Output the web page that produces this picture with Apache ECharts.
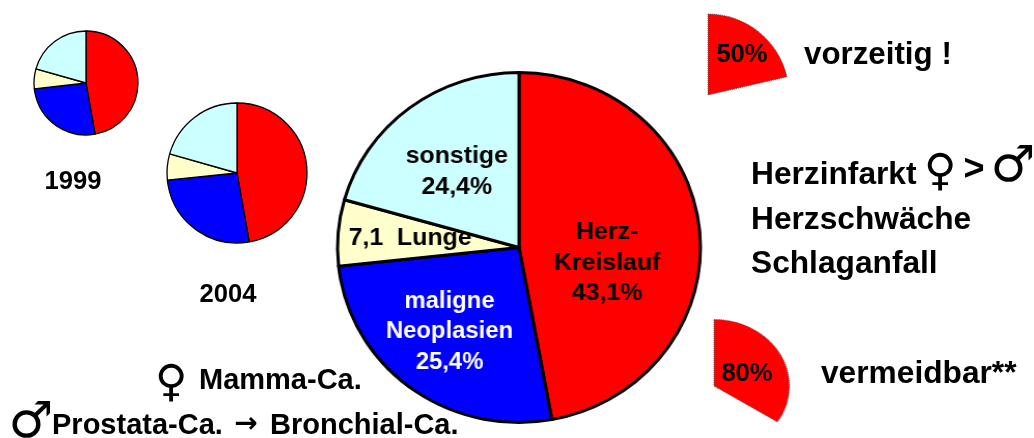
<!DOCTYPE html>
<html>
<head>
<meta charset="utf-8">
<script src="https://cdn.jsdelivr.net/npm/echarts@6/dist/echarts.min.js"></script>
<style>
  html, body { margin: 0; padding: 0; width: 1034px; height: 438px; overflow: hidden; background: #fff; }
  .layer { position: absolute; }
  #main { left: 319px; top: 47px; width: 400px; height: 401px; transform: scaleX(1.037); transform-origin: 200px 200px; }
  #wedge80 { left: 694px; top: 300px; width: 130px; height: 138px; transform: scaleX(1.134); transform-origin: 20px 86px; }
  #overlay { left: 0; top: 0; width: 1034px; height: 438px; }
</style>
</head>
<body>
<div id="main" class="layer"></div>
<div id="wedge80" class="layer"></div>
<div id="overlay" class="layer"></div>
<script>
const causes = ['Herz-Kreislauf', 'maligne Neoplasien', 'Lunge', 'sonstige']
const colors = ['#ff0000', '#0000ff', '#ffffcc', '#ccffff']

// slice shares as drawn (the printed percentages do not match the drawn angles)
const shares1999 = [47.2, 26.0, 6.2, 20.6]
const shares2004 = [47.2, 26.2, 6.0, 20.6]
const sharesMain = [47.1, 26.2, 6.1, 20.6]
const mainLabels = ['Herz-\nKreislauf\n43,1%', 'maligne\nNeoplasien\n25,4%', '7,1  Lunge', 'sonstige\n24,4%']

const wedge50 = [21.4, 78.6]
const wedge80 = [34.1, 65.9]

// label centres in the big pie's own div
const labelX = [285, 133, 95, 140]
const labelY = [216, 285, 191, 125]

const boldFont = size => `bold ${size}px "Liberation Sans", Arial, sans-serif`

const pieData = shares => shares.map((value, i) => ({ name: causes[i], value, itemStyle: { color: colors[i] } }))

const smallPie = (shares, center, radius) => ({
  type: 'pie',
  silent: true,
  animation: false,
  startAngle: 90,
  center,
  radius,
  label: { show: false },
  labelLine: { show: false },
  itemStyle: { borderColor: '#000', borderWidth: 1.3 },
  data: pieData(shares)
})

const wedgePie = (shares, center, radius) => ({
  type: 'pie',
  silent: true,
  animation: false,
  startAngle: 90,
  center,
  radius,
  label: { show: false },
  labelLine: { show: false },
  data: [
    { value: shares[0], itemStyle: { color: '#ff0000', borderColor: '#555', borderWidth: 1, borderType: 'dotted' } },
    { value: shares[1], itemStyle: { color: 'transparent', borderWidth: 0 } }
  ]
})

const mainChart = echarts.init(document.getElementById('main'))
mainChart.setOption({
  series: [{
    type: 'pie',
    silent: true,
    animation: false,
    startAngle: 90,
    center: [200, 200.5],
    radius: 175,
    itemStyle: { borderColor: '#000', borderWidth: 3 },
    labelLine: { show: false },
    label: {
      show: true,
      position: 'inside',
      fontFamily: '"Liberation Sans", Arial, sans-serif',
      fontWeight: 'bold',
      fontSize: 24,
      lineHeight: 30.5,
      color: '#000',
      formatter: params => mainLabels[params.dataIndex]
    },
    labelLayout: params => ({
      x: labelX[params.dataIndex],
      y: labelY[params.dataIndex],
      align: 'center',
      verticalAlign: 'middle'
    }),
    data: pieData(sharesMain).map((item, i) => i === 1 ? { ...item, label: { color: '#fff', fontSize: 23 } } : item)
  }]
})

const wedgeChart = echarts.init(document.getElementById('wedge80'))
wedgeChart.setOption({ series: [wedgePie(wedge80, [20, 86], 66.5)] })

const text = (value, x, y, size, align) => ({
  type: 'text', x, y, z: 10,
  style: { text: value, font: boldFont(size), fill: '#000', align: align || 'left', verticalAlign: 'middle' }
})
const symbol = (value, x, y, size, weight) => ({
  type: 'text', x, y, z: 10,
  style: { text: value, font: `${weight || 'normal'} ${size}px "DejaVu Sans", sans-serif`, fill: '#000', align: 'center', verticalAlign: 'middle' }
})

const overlay = echarts.init(document.getElementById('overlay'))
overlay.setOption({
  series: [
    smallPie(shares1999, [86, 83], 52),
    smallPie(shares2004, [237, 173], 70),
    wedgePie(wedge50, [708, 95], 81)
  ],
  graphic: [
    text('1999', 73, 181.5, 25.6, 'center'),
    text('2004', 228, 294.5, 25.6, 'center'),
    text('50%', 742, 55, 25.6, 'center'),
    text('vorzeitig !', 804, 55, 31.3),
    text('Herzinfarkt', 751, 175, 31.7),
    symbol('♀', 940, 174, 44),
    text('>', 974, 170, 36, 'center'),
    symbol('♂', 1013, 168, 50, 'bold'),
    text('Herzschwäche', 751, 220, 31.7),
    text('Schlaganfall', 751, 264, 31.7),
    text('80%', 747, 374, 25.6, 'center'),
    text('vermeidbar**', 821, 374, 31.7),
    symbol('♀', 171, 385, 44),
    text('Mamma-Ca.', 199, 381, 29),
    symbol('♂', 31, 424, 50, 'bold'),
    text('Prostata-Ca.', 52, 426, 29),
    symbol('→', 246, 425, 28, 'bold'),
    text('Bronchial-Ca.', 270, 426, 29)
  ]
})
</script>
</body>
</html>
